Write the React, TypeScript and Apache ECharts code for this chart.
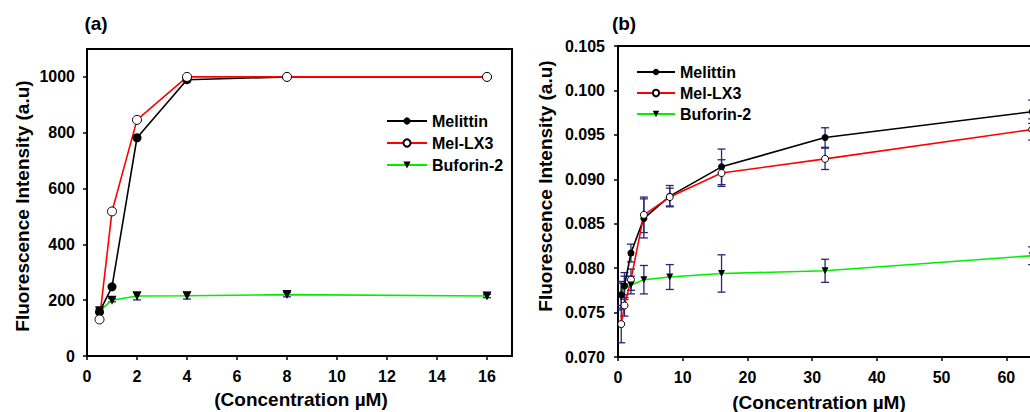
import React, { useEffect, useRef } from "react";
import * as echarts from "echarts";

// ---------- Data ----------
const concA = [0.5, 1, 2, 4, 8, 16];
const melittinA = [158, 248, 782, 990, 1000, 1000];
const melLX3A = [131, 518, 846, 1000, 1000, 1000];
const buforinA = [162, 200, 215, 216, 220, 215];
const buforinErrA = [6, 6, 14, 12, 8, 6];

const concB = [0.5, 1, 2, 4, 8, 16, 32, 64];
const melittinB = [0.077, 0.078, 0.0817, 0.0856, 0.0881, 0.0914, 0.0947, 0.0976];
const melittinErrB = [0.0015, 0.0015, 0.001, 0.0022, 0.0012, 0.002, 0.0011, 0.0013];
const melLX3B = [0.0737, 0.0758, 0.0787, 0.086, 0.088, 0.0907, 0.0923, 0.0956];
const melLX3ErrB = [0.0021, 0.0012, 0.0012, 0.002, 0.001, 0.0015, 0.0012, 0.0012];
const buforinB = [0.0768, 0.0779, 0.0781, 0.0787, 0.079, 0.0794, 0.0797, 0.0814];
const buforinErrB = [0.0015, 0.0012, 0.001, 0.0016, 0.0014, 0.0021, 0.0013, 0.001];

const seriesNames = ["Melittin", "Mel-LX3", "Buforin-2"];
const panelLabels = ["(a)", "(b)"];
const yTitle = "Fluorescence Intensity (a.u)";
const xTitle = "(Concentration \u00b5M)";

// ---------- Styles ----------
const FONT = "Liberation Sans, Arial, sans-serif";
const ERR_COLOR = "#26267a";
const DOWN_TRI = "path://M0,0 L10,0 L5,9 Z";

const pairs = (xs: number[], ys: number[]) => xs.map((x, i) => [x, ys[i]]);
const errData = (xs: number[], ys: number[], es: number[]) =>
  xs.map((x, i) => [x, ys[i] - es[i], ys[i] + es[i]]);

const errRender = (capHalf: number) => (params: any, api: any) => {
  const x = api.value(0);
  const lo = api.coord([x, api.value(1)]);
  const hi = api.coord([x, api.value(2)]);
  const style = { stroke: ERR_COLOR, lineWidth: 1.3 };
  return {
    type: "group",
    children: [
      { type: "line", shape: { x1: hi[0] - capHalf, y1: hi[1], x2: hi[0] + capHalf, y2: hi[1] }, style },
      { type: "line", shape: { x1: hi[0], y1: hi[1], x2: lo[0], y2: lo[1] }, style },
      { type: "line", shape: { x1: lo[0] - capHalf, y1: lo[1], x2: lo[0] + capHalf, y2: lo[1] }, style },
    ],
  };
};

const labelStyle = { color: "#000", fontFamily: FONT, fontWeight: "bold" as const, fontSize: 16 };

function axisCommon() {
  return {
    axisLine: { show: true, lineStyle: { color: "#000", width: 2 } },
    axisTick: { show: true, inside: false, length: 4, lineStyle: { color: "#000", width: 1.5 } },
    splitLine: { show: false },
  };
}

function lineSeries(name: string, data: number[][], xi: number, color: string, kind: string, size: number) {
  const base: any = {
    name,
    type: "line",
    xAxisIndex: xi,
    yAxisIndex: xi,
    data,
    showAllSymbol: true,
    symbolSize: size,
    lineStyle: { color, width: 1.6 },
    z: 3,
  };
  if (kind === "filled") {
    base.symbol = "circle";
    base.itemStyle = { color: "#000", borderColor: "#000", borderWidth: 0 };
  } else if (kind === "open") {
    base.symbol = "circle";
    base.itemStyle = { color: "#fff", borderColor: "#000", borderWidth: 1 };
  } else {
    base.symbol = DOWN_TRI;
    base.itemStyle = { color: "#000", borderWidth: 0 };
  }
  return base;
}

export default function App() {
  const ref = useRef<HTMLDivElement>(null);

  useEffect(() => {
    if (!ref.current) return;
    const chart = echarts.init(ref.current, null, { renderer: "svg" });

    const titleStyle = { fill: "#000", fontFamily: FONT, fontWeight: "bold", fontSize: 19 };

    const option: any = {
      animation: false,
      backgroundColor: "#fff",
      grid: [
        { left: 87, top: 49, width: 425, height: 307, show: true, borderColor: "#000", borderWidth: 2, backgroundColor: "transparent" },
        { left: 618, top: 46, width: 453, height: 311, show: true, borderColor: "#000", borderWidth: 2, backgroundColor: "transparent" },
      ],
      xAxis: [
        {
          type: "value", gridIndex: 0, min: 0, max: 17, interval: 2,
          ...axisCommon(),
          axisLabel: { ...labelStyle, margin: 12, showMaxLabel: false, formatter: (v: number) => String(v) },
        },
        {
          type: "value", gridIndex: 1, min: 0, max: 70, interval: 10,
          ...axisCommon(),
          axisLabel: { ...labelStyle, margin: 12, showMaxLabel: false, formatter: (v: number) => String(v) },
        },
      ],
      yAxis: [
        {
          type: "value", gridIndex: 0, min: 0, max: 1100, interval: 200,
          ...axisCommon(),
          axisLabel: { ...labelStyle, margin: 12, showMaxLabel: false, formatter: (v: number) => String(v) },
        },
        {
          type: "value", gridIndex: 1, min: 0.07, max: 0.105, interval: 0.005,
          ...axisCommon(),
          axisLabel: { ...labelStyle, margin: 13, formatter: (v: number) => v.toFixed(3) },
        },
      ],
      legend: [
        {
          orient: "vertical", left: 381, top: 108, itemWidth: 40, itemHeight: 9, itemGap: 6,
          data: seriesNames, selectedMode: false,
          textStyle: { ...labelStyle },
        },
        {
          orient: "vertical", left: 631, top: 59, itemWidth: 38, itemHeight: 8, itemGap: 5,
          data: seriesNames, selectedMode: false,
          textStyle: { ...labelStyle },
        },
      ],
      series: [
        // Panel (a)
        { type: "custom", xAxisIndex: 0, yAxisIndex: 0, renderItem: errRender(4), data: errData(concA, buforinA, buforinErrA), encode: { x: 0, y: [1, 2] }, z: 2 },
        lineSeries(seriesNames[0], pairs(concA, melittinA), 0, "#000", "filled", 9),
        lineSeries(seriesNames[1], pairs(concA, melLX3A), 0, "#ff0000", "open", 9),
        lineSeries(seriesNames[2], pairs(concA, buforinA), 0, "#00ee00", "tri", 9),
        // Panel (b)
        { type: "custom", xAxisIndex: 1, yAxisIndex: 1, renderItem: errRender(4), data: errData(concB, melittinB, melittinErrB), encode: { x: 0, y: [1, 2] }, z: 2 },
        { type: "custom", xAxisIndex: 1, yAxisIndex: 1, renderItem: errRender(4), data: errData(concB, melLX3B, melLX3ErrB), encode: { x: 0, y: [1, 2] }, z: 2 },
        { type: "custom", xAxisIndex: 1, yAxisIndex: 1, renderItem: errRender(4), data: errData(concB, buforinB, buforinErrB), encode: { x: 0, y: [1, 2] }, z: 2 },
        lineSeries(seriesNames[0], pairs(concB, melittinB), 1, "#000", "filled", 7),
        lineSeries(seriesNames[1], pairs(concB, melLX3B), 1, "#ff0000", "open", 7),
        lineSeries(seriesNames[2], pairs(concB, buforinB), 1, "#00ee00", "tri", 7),
      ],
      graphic: [
        { type: "text", x: 96, y: 23, style: { ...titleStyle, text: panelLabels[0], align: "center", verticalAlign: "middle" } },
        { type: "text", x: 624, y: 23, style: { ...titleStyle, text: panelLabels[1], align: "center", verticalAlign: "middle" } },
        { type: "text", x: 22, y: 206, rotation: Math.PI / 2, style: { ...titleStyle, text: yTitle, align: "center", verticalAlign: "middle" } },
        { type: "text", x: 545, y: 186, rotation: Math.PI / 2, style: { ...titleStyle, text: yTitle, align: "center", verticalAlign: "middle" } },
        { type: "text", x: 301, y: 399, style: { ...titleStyle, text: xTitle, align: "center", verticalAlign: "middle" } },
        { type: "text", x: 819, y: 402, style: { ...titleStyle, text: xTitle, align: "center", verticalAlign: "middle" } },
      ],
    };

    chart.setOption(option);
    return () => chart.dispose();
  }, []);

  return (
    <div style={{ position: "fixed", left: 0, top: 0, width: 1030, height: 412, overflow: "hidden", background: "#fff" }}>
      <div ref={ref} style={{ width: 1100, height: 412 }} />
    </div>
  );
}
